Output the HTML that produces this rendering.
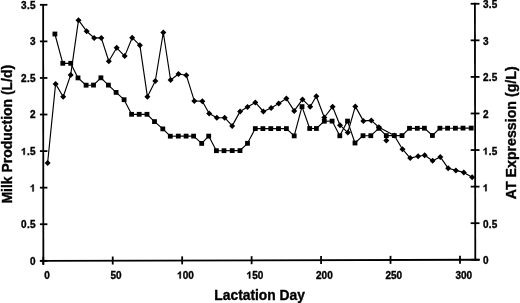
<!DOCTYPE html><html><head><meta charset="utf-8"><style>html,body{margin:0;padding:0;background:#fff;width:520px;height:303px;overflow:hidden}svg{display:block;filter:blur(0.35px)}text{font-family:"Liberation Sans",sans-serif;font-weight:bold;fill:#000;stroke:#000;stroke-width:0.35px}</style></head><body>
<svg width="520" height="303" viewBox="0 0 520 303">
<g stroke="#000" stroke-width="1.8" fill="none" stroke-linecap="butt">
<line x1="43.15" y1="3.91" x2="43.35" y2="264.70"/>
<line x1="474.9" y1="2.87" x2="475.3" y2="260.66"/>
<line x1="39.9" y1="260.81" x2="479.7" y2="259.75"/>
<line x1="39.9" y1="260.80" x2="47.4" y2="260.80"/>
<line x1="470.7" y1="259.76" x2="479.5" y2="259.76"/>
<line x1="39.9" y1="224.23" x2="47.4" y2="224.23"/>
<line x1="470.7" y1="223.19" x2="479.5" y2="223.19"/>
<line x1="39.9" y1="187.66" x2="47.4" y2="187.66"/>
<line x1="470.7" y1="186.62" x2="479.5" y2="186.62"/>
<line x1="39.9" y1="151.09" x2="47.4" y2="151.09"/>
<line x1="470.7" y1="150.05" x2="479.5" y2="150.05"/>
<line x1="39.9" y1="114.52" x2="47.4" y2="114.52"/>
<line x1="470.7" y1="113.48" x2="479.5" y2="113.48"/>
<line x1="39.9" y1="77.95" x2="47.4" y2="77.95"/>
<line x1="470.7" y1="76.91" x2="479.5" y2="76.91"/>
<line x1="39.9" y1="41.38" x2="47.4" y2="41.38"/>
<line x1="470.7" y1="40.34" x2="479.5" y2="40.34"/>
<line x1="39.9" y1="4.81" x2="47.4" y2="4.81"/>
<line x1="470.7" y1="3.77" x2="479.5" y2="3.77"/>
<line x1="43.26" y1="256.70" x2="43.26" y2="264.70"/>
<line x1="112.72" y1="256.53" x2="112.72" y2="264.53"/>
<line x1="182.17" y1="256.37" x2="182.17" y2="264.37"/>
<line x1="251.62" y1="256.20" x2="251.62" y2="264.20"/>
<line x1="321.08" y1="256.03" x2="321.08" y2="264.03"/>
<line x1="390.53" y1="255.87" x2="390.53" y2="263.87"/>
<line x1="459.99" y1="255.70" x2="459.99" y2="263.70"/>
</g>
<g stroke="#000" stroke-width="1.15" fill="none" stroke-linejoin="round">
<polyline points="47.6,163.0 55.6,83.9 63.2,96.8 70.7,74.9 78.5,20.2 86.6,31.2 94.1,37.9 101.3,37.9 108.8,61.3 116.7,47.8 124.7,56.1 132.2,37.7 139.9,45.3 147.4,96.7 155.3,81.0 163.3,32.5 170.6,80.0 178.5,74.0 186.3,75.2 194.3,100.9 202.3,101.3 209.2,113.5 216.8,117.7 224.7,117.7 232.2,125.9 240.1,111.4 247.5,107.0 255.3,102.4 263.4,111.5 271.1,107.9 278.7,103.6 286.4,98.6 294.2,110.9 302.5,99.4 310.2,106.8 316.3,96.3 324.3,117.5 332.6,106.7 340.0,125.2 347.8,132.6 355.3,106.4 363.4,120.9 371.3,120.4 378.9,127.2 394.3,135.5 402.5,149.2 410.2,158.1 418.1,156.3 424.7,155.3 432.6,160.7 440.3,156.9 448.2,168.3 455.9,170.4 463.8,172.4 472.1,177.3"/>
<polyline points="54.9,34.0 62.8,63.3 70.7,63.3 78.0,77.9 86.1,85.2 93.5,85.1 100.9,77.8 108.4,85.1 116.1,92.4 124.1,99.7 131.6,114.3 139.2,114.3 147.0,114.3 154.5,121.6 162.8,128.9 170.3,136.2 178.3,136.1 186.1,136.1 193.6,136.1 201.7,143.4 208.7,136.1 216.4,150.7 224.0,150.7 232.2,150.6 240.0,150.6 247.5,143.3 255.3,128.6 262.9,128.6 270.8,128.6 278.5,128.6 286.4,128.6 294.2,135.9 302.0,106.6 309.7,128.5 316.4,128.5 324.3,121.2 332.1,121.1 339.8,135.8 347.5,121.1 355.0,143.0 363.0,135.7 370.8,135.7 378.9,128.3 386.3,135.6 394.3,135.6 402.0,135.6 409.5,128.3 417.3,128.3 424.4,128.2 432.4,135.5 439.9,128.2 447.6,128.2 455.4,128.2 463.0,128.1 471.2,128.1"/>
</g>
<g fill="#000">
<path d="M47.6 160.0L50.6 163.0L47.6 166.0L44.6 163.0Z"/>
<path d="M55.6 80.9L58.6 83.9L55.6 86.9L52.6 83.9Z"/>
<path d="M63.2 93.8L66.2 96.8L63.2 99.8L60.2 96.8Z"/>
<path d="M70.7 71.9L73.7 74.9L70.7 77.9L67.7 74.9Z"/>
<path d="M78.5 17.2L81.5 20.2L78.5 23.2L75.5 20.2Z"/>
<path d="M86.6 28.2L89.6 31.2L86.6 34.2L83.6 31.2Z"/>
<path d="M94.1 34.9L97.1 37.9L94.1 40.9L91.1 37.9Z"/>
<path d="M101.3 34.9L104.3 37.9L101.3 40.9L98.3 37.9Z"/>
<path d="M108.8 58.3L111.8 61.3L108.8 64.3L105.8 61.3Z"/>
<path d="M116.7 44.8L119.7 47.8L116.7 50.8L113.7 47.8Z"/>
<path d="M124.7 53.1L127.7 56.1L124.7 59.1L121.7 56.1Z"/>
<path d="M132.2 34.7L135.2 37.7L132.2 40.7L129.2 37.7Z"/>
<path d="M139.9 42.3L142.9 45.3L139.9 48.3L136.9 45.3Z"/>
<path d="M147.4 93.7L150.4 96.7L147.4 99.7L144.4 96.7Z"/>
<path d="M155.3 78.0L158.3 81.0L155.3 84.0L152.3 81.0Z"/>
<path d="M163.3 29.5L166.3 32.5L163.3 35.5L160.3 32.5Z"/>
<path d="M170.6 77.0L173.6 80.0L170.6 83.0L167.6 80.0Z"/>
<path d="M178.5 71.0L181.5 74.0L178.5 77.0L175.5 74.0Z"/>
<path d="M186.3 72.2L189.3 75.2L186.3 78.2L183.3 75.2Z"/>
<path d="M194.3 97.9L197.3 100.9L194.3 103.9L191.3 100.9Z"/>
<path d="M202.3 98.3L205.3 101.3L202.3 104.3L199.3 101.3Z"/>
<path d="M209.2 110.5L212.2 113.5L209.2 116.5L206.2 113.5Z"/>
<path d="M216.8 114.7L219.8 117.7L216.8 120.7L213.8 117.7Z"/>
<path d="M224.7 114.7L227.7 117.7L224.7 120.7L221.7 117.7Z"/>
<path d="M232.2 122.9L235.2 125.9L232.2 128.9L229.2 125.9Z"/>
<path d="M240.1 108.4L243.1 111.4L240.1 114.4L237.1 111.4Z"/>
<path d="M247.5 104.0L250.5 107.0L247.5 110.0L244.5 107.0Z"/>
<path d="M255.3 99.4L258.3 102.4L255.3 105.4L252.3 102.4Z"/>
<path d="M263.4 108.5L266.4 111.5L263.4 114.5L260.4 111.5Z"/>
<path d="M271.1 104.9L274.1 107.9L271.1 110.9L268.1 107.9Z"/>
<path d="M278.7 100.6L281.7 103.6L278.7 106.6L275.7 103.6Z"/>
<path d="M286.4 95.6L289.4 98.6L286.4 101.6L283.4 98.6Z"/>
<path d="M294.2 107.9L297.2 110.9L294.2 113.9L291.2 110.9Z"/>
<path d="M302.5 96.4L305.5 99.4L302.5 102.4L299.5 99.4Z"/>
<path d="M310.2 103.8L313.2 106.8L310.2 109.8L307.2 106.8Z"/>
<path d="M316.3 93.3L319.3 96.3L316.3 99.3L313.3 96.3Z"/>
<path d="M324.3 114.5L327.3 117.5L324.3 120.5L321.3 117.5Z"/>
<path d="M332.6 103.7L335.6 106.7L332.6 109.7L329.6 106.7Z"/>
<path d="M340.0 122.2L343.0 125.2L340.0 128.2L337.0 125.2Z"/>
<path d="M347.8 129.6L350.8 132.6L347.8 135.6L344.8 132.6Z"/>
<path d="M355.3 103.4L358.3 106.4L355.3 109.4L352.3 106.4Z"/>
<path d="M363.4 117.9L366.4 120.9L363.4 123.9L360.4 120.9Z"/>
<path d="M371.3 117.4L374.3 120.4L371.3 123.4L368.3 120.4Z"/>
<path d="M378.9 124.2L381.9 127.2L378.9 130.2L375.9 127.2Z"/>
<path d="M386.3 137.5L389.3 140.5L386.3 143.5L383.3 140.5Z"/>
<path d="M394.3 132.5L397.3 135.5L394.3 138.5L391.3 135.5Z"/>
<path d="M402.5 146.2L405.5 149.2L402.5 152.2L399.5 149.2Z"/>
<path d="M410.2 155.1L413.2 158.1L410.2 161.1L407.2 158.1Z"/>
<path d="M418.1 153.3L421.1 156.3L418.1 159.3L415.1 156.3Z"/>
<path d="M424.7 152.3L427.7 155.3L424.7 158.3L421.7 155.3Z"/>
<path d="M432.6 157.7L435.6 160.7L432.6 163.7L429.6 160.7Z"/>
<path d="M440.3 153.9L443.3 156.9L440.3 159.9L437.3 156.9Z"/>
<path d="M448.2 165.3L451.2 168.3L448.2 171.3L445.2 168.3Z"/>
<path d="M455.9 167.4L458.9 170.4L455.9 173.4L452.9 170.4Z"/>
<path d="M463.8 169.4L466.8 172.4L463.8 175.4L460.8 172.4Z"/>
<path d="M472.1 174.3L475.1 177.3L472.1 180.3L469.1 177.3Z"/>
<rect x="52.5" y="31.6" width="4.8" height="4.8"/>
<rect x="60.4" y="60.9" width="4.8" height="4.8"/>
<rect x="68.3" y="60.9" width="4.8" height="4.8"/>
<rect x="75.6" y="75.5" width="4.8" height="4.8"/>
<rect x="83.7" y="82.8" width="4.8" height="4.8"/>
<rect x="91.1" y="82.7" width="4.8" height="4.8"/>
<rect x="98.5" y="75.4" width="4.8" height="4.8"/>
<rect x="106.0" y="82.7" width="4.8" height="4.8"/>
<rect x="113.7" y="90.0" width="4.8" height="4.8"/>
<rect x="121.7" y="97.3" width="4.8" height="4.8"/>
<rect x="129.2" y="111.9" width="4.8" height="4.8"/>
<rect x="136.8" y="111.9" width="4.8" height="4.8"/>
<rect x="144.6" y="111.9" width="4.8" height="4.8"/>
<rect x="152.1" y="119.2" width="4.8" height="4.8"/>
<rect x="160.4" y="126.5" width="4.8" height="4.8"/>
<rect x="167.9" y="133.8" width="4.8" height="4.8"/>
<rect x="175.9" y="133.7" width="4.8" height="4.8"/>
<rect x="183.7" y="133.7" width="4.8" height="4.8"/>
<rect x="191.2" y="133.7" width="4.8" height="4.8"/>
<rect x="199.3" y="141.0" width="4.8" height="4.8"/>
<rect x="206.3" y="133.7" width="4.8" height="4.8"/>
<rect x="214.0" y="148.3" width="4.8" height="4.8"/>
<rect x="221.6" y="148.3" width="4.8" height="4.8"/>
<rect x="229.8" y="148.2" width="4.8" height="4.8"/>
<rect x="237.6" y="148.2" width="4.8" height="4.8"/>
<rect x="245.1" y="140.9" width="4.8" height="4.8"/>
<rect x="252.9" y="126.2" width="4.8" height="4.8"/>
<rect x="260.5" y="126.2" width="4.8" height="4.8"/>
<rect x="268.4" y="126.2" width="4.8" height="4.8"/>
<rect x="276.1" y="126.2" width="4.8" height="4.8"/>
<rect x="284.0" y="126.2" width="4.8" height="4.8"/>
<rect x="291.8" y="133.5" width="4.8" height="4.8"/>
<rect x="299.6" y="104.2" width="4.8" height="4.8"/>
<rect x="307.3" y="126.1" width="4.8" height="4.8"/>
<rect x="314.0" y="126.1" width="4.8" height="4.8"/>
<rect x="321.9" y="118.8" width="4.8" height="4.8"/>
<rect x="329.7" y="118.7" width="4.8" height="4.8"/>
<rect x="337.4" y="133.4" width="4.8" height="4.8"/>
<rect x="345.1" y="118.7" width="4.8" height="4.8"/>
<rect x="352.6" y="140.6" width="4.8" height="4.8"/>
<rect x="360.6" y="133.3" width="4.8" height="4.8"/>
<rect x="368.4" y="133.3" width="4.8" height="4.8"/>
<rect x="376.5" y="125.9" width="4.8" height="4.8"/>
<rect x="383.9" y="133.2" width="4.8" height="4.8"/>
<rect x="391.9" y="133.2" width="4.8" height="4.8"/>
<rect x="399.6" y="133.2" width="4.8" height="4.8"/>
<rect x="407.1" y="125.9" width="4.8" height="4.8"/>
<rect x="414.9" y="125.9" width="4.8" height="4.8"/>
<rect x="422.0" y="125.8" width="4.8" height="4.8"/>
<rect x="430.0" y="133.1" width="4.8" height="4.8"/>
<rect x="437.5" y="125.8" width="4.8" height="4.8"/>
<rect x="445.2" y="125.8" width="4.8" height="4.8"/>
<rect x="453.0" y="125.8" width="4.8" height="4.8"/>
<rect x="460.6" y="125.7" width="4.8" height="4.8"/>
<rect x="468.8" y="125.7" width="4.8" height="4.8"/>
</g>
<g font-size="10.0" fill="#000" stroke="#000">
<text x="30.04" y="264.53">0</text>
<text x="482.90" y="264.33">0</text>
<text x="21.10" y="227.96">0</text><text x="26.96" y="227.96">.</text><text x="30.04" y="227.96">5</text>
<text x="482.90" y="227.76">0</text><text x="488.76" y="227.76">.</text><text x="491.84" y="227.76">5</text>
<path transform="translate(30.04,191.39) scale(0.004883,-0.004883)" d="M759 0L484 0L484 1032Q333 891 128 824L128 1072Q236 1107 362 1206Q488 1304 535 1409L759 1409Z" stroke-width="71.7"/>
<path transform="translate(482.90,191.19) scale(0.004883,-0.004883)" d="M759 0L484 0L484 1032Q333 891 128 824L128 1072Q236 1107 362 1206Q488 1304 535 1409L759 1409Z" stroke-width="71.7"/>
<path transform="translate(21.10,154.82) scale(0.004883,-0.004883)" d="M759 0L484 0L484 1032Q333 891 128 824L128 1072Q236 1107 362 1206Q488 1304 535 1409L759 1409Z" stroke-width="71.7"/><text x="26.96" y="154.82">.</text><text x="30.04" y="154.82">5</text>
<path transform="translate(482.90,154.62) scale(0.004883,-0.004883)" d="M759 0L484 0L484 1032Q333 891 128 824L128 1072Q236 1107 362 1206Q488 1304 535 1409L759 1409Z" stroke-width="71.7"/><text x="488.76" y="154.62">.</text><text x="491.84" y="154.62">5</text>
<text x="30.04" y="118.25">2</text>
<text x="482.90" y="118.05">2</text>
<text x="21.10" y="81.68">2</text><text x="26.96" y="81.68">.</text><text x="30.04" y="81.68">5</text>
<text x="482.90" y="81.48">2</text><text x="488.76" y="81.48">.</text><text x="491.84" y="81.48">5</text>
<text x="30.04" y="45.11">3</text>
<text x="482.90" y="44.91">3</text>
<text x="21.10" y="8.54">3</text><text x="26.96" y="8.54">.</text><text x="30.04" y="8.54">5</text>
<text x="482.90" y="8.34">3</text><text x="488.76" y="8.34">.</text><text x="491.84" y="8.34">5</text>
<text x="44.28" y="278.50">0</text>
<text x="110.45" y="278.50">5</text><text x="116.02" y="278.50">0</text>
<path transform="translate(177.13,278.50) scale(0.004883,-0.004883)" d="M759 0L484 0L484 1032Q333 891 128 824L128 1072Q236 1107 362 1206Q488 1304 535 1409L759 1409Z" stroke-width="71.7"/><text x="182.69" y="278.50">0</text><text x="188.25" y="278.50">0</text>
<path transform="translate(246.58,278.50) scale(0.004883,-0.004883)" d="M759 0L484 0L484 1032Q333 891 128 824L128 1072Q236 1107 362 1206Q488 1304 535 1409L759 1409Z" stroke-width="71.7"/><text x="252.14" y="278.50">5</text><text x="257.71" y="278.50">0</text>
<text x="316.04" y="278.50">2</text><text x="321.60" y="278.50">0</text><text x="327.16" y="278.50">0</text>
<text x="385.49" y="278.50">2</text><text x="391.05" y="278.50">5</text><text x="396.62" y="278.50">0</text>
<text x="455.45" y="278.50">3</text><text x="461.01" y="278.50">0</text><text x="466.57" y="278.50">0</text>
</g>
<text x="259.6" y="300.2" font-size="13.8" text-anchor="middle">Lactation Day</text>
<text transform="translate(11.9,134.2) rotate(-90)" font-size="13.95" text-anchor="middle">Milk Production (L/d)</text>
<text transform="translate(515.7,132.8) rotate(-90)" font-size="14.2" text-anchor="middle">AT Expression (g/L)</text>
</svg></body></html>
